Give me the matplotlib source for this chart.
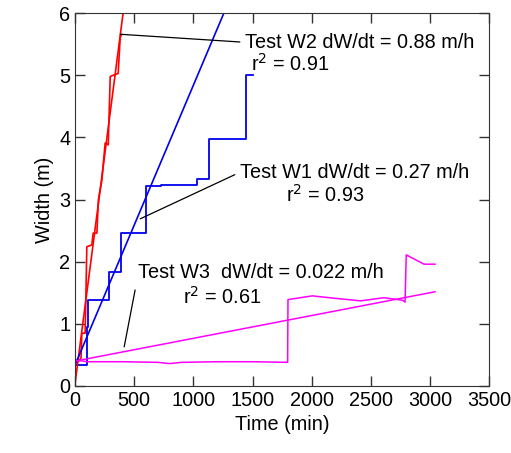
import matplotlib.pyplot as plt
import numpy as np

plt.rcParams['font.family'] = ['Liberation Sans', 'DejaVu Sans']
plt.rcParams['font.size'] = 14.3

# Test W2 (red)
t_w2 = [0, 30, 50, 57, 85, 99, 141, 153, 184, 197, 226, 254, 280, 297, 322, 364, 381, 390]
w_w2 = [0.37, 0.40, 0.45, 0.85, 0.85, 2.24, 2.27, 2.46, 2.46, 3.0, 3.31, 3.91, 3.88, 4.98, 5.0, 5.03, 5.6, 5.65]
# Test W1 (blue, stepwise)
t_w1 = [0, 99, 110, 288, 387, 601, 729, 1031, 1136, 1441, 1508]
w_w1 = [0.33, 0.95, 1.38, 1.84, 2.46, 3.22, 3.24, 3.33, 3.97, 5.0, 5.0]
# Test W3 (magenta)
t_w3 = [0, 100, 400, 700, 800, 900, 1200, 1500, 1797, 1800, 2006, 2200, 2415, 2610, 2768, 2790, 2800, 2950, 3043]
w_w3 = [0.42, 0.39, 0.39, 0.38, 0.36, 0.38, 0.39, 0.39, 0.38, 1.39, 1.45, 1.41, 1.37, 1.42, 1.38, 1.35, 2.11, 1.96, 1.96]

# linear fits: rate in m/h, intercept in m
rate = {'W1': 0.27, 'W2': 0.88, 'W3': 0.022}
icpt = {'W1': 0.34, 'W2': 0.05, 'W3': 0.40}

fig = plt.figure(figsize=(5.11, 4.53), dpi=100)
ax = fig.add_axes([0.147, 0.148, 0.81, 0.823])

ax.plot(t_w2, w_w2, color='#ff0000', lw=1.2)
ax.plot(t_w1, w_w1, color='#0000ee', lw=1.3, drawstyle='steps-post')
ax.plot(t_w3, w_w3, color='#ff00ff', lw=1.1)

tt = np.array([0, 500])
ax.plot(tt, icpt['W2'] + rate['W2'] / 60 * tt, color='#ff0000', lw=1.2)
tt = np.array([0, 1500])
ax.plot(tt, icpt['W1'] + rate['W1'] / 60 * tt, color='#0000ee', lw=1.2)
tt = np.array([0, 3043])
ax.plot(tt, icpt['W3'] + rate['W3'] / 60 * tt, color='#ff00ff', lw=1.1)

# annotations
lead = dict(arrowstyle='-', color='k', lw=0.9, shrinkB=0, shrinkA=2, relpos=(0, 0.5))
ax.annotate('Test W2 dW/dt = 0.88 m/h', xy=(381, 5.66), xytext=(1440, 5.53),
            va='center', annotation_clip=False, arrowprops=lead)
ax.text(1490, 5.18, 'r$^2$ = 0.91', va='center')
ax.annotate('Test W1 dW/dt = 0.27 m/h', xy=(551, 2.69), xytext=(1395, 3.44),
            va='center', annotation_clip=False, arrowprops=lead)
ax.text(1785, 3.07, 'r$^2$ = 0.93', va='center')
ax.annotate('Test W3  dW/dt = 0.022 m/h', xy=(415, 0.63), xytext=(530, 1.83),
            va='center', annotation_clip=False,
            arrowprops=dict(lead, relpos=(0, 0.3), shrinkA=4))
ax.text(910, 1.43, 'r$^2$ = 0.61', va='center')

ax.set_xlim(0, 3500)
ax.set_ylim(0, 6)
ax.set_xticks(range(0, 3501, 500))
ax.set_yticks(range(0, 7))
ax.tick_params(direction='in', length=7, top=True, right=True, width=1, color='#333333')
for s in ax.spines.values():
    s.set_color('#333333')
ax.set_xlabel('Time (min)')
ax.set_ylabel('Width (m)')

fig.savefig('out.png', dpi=100)
